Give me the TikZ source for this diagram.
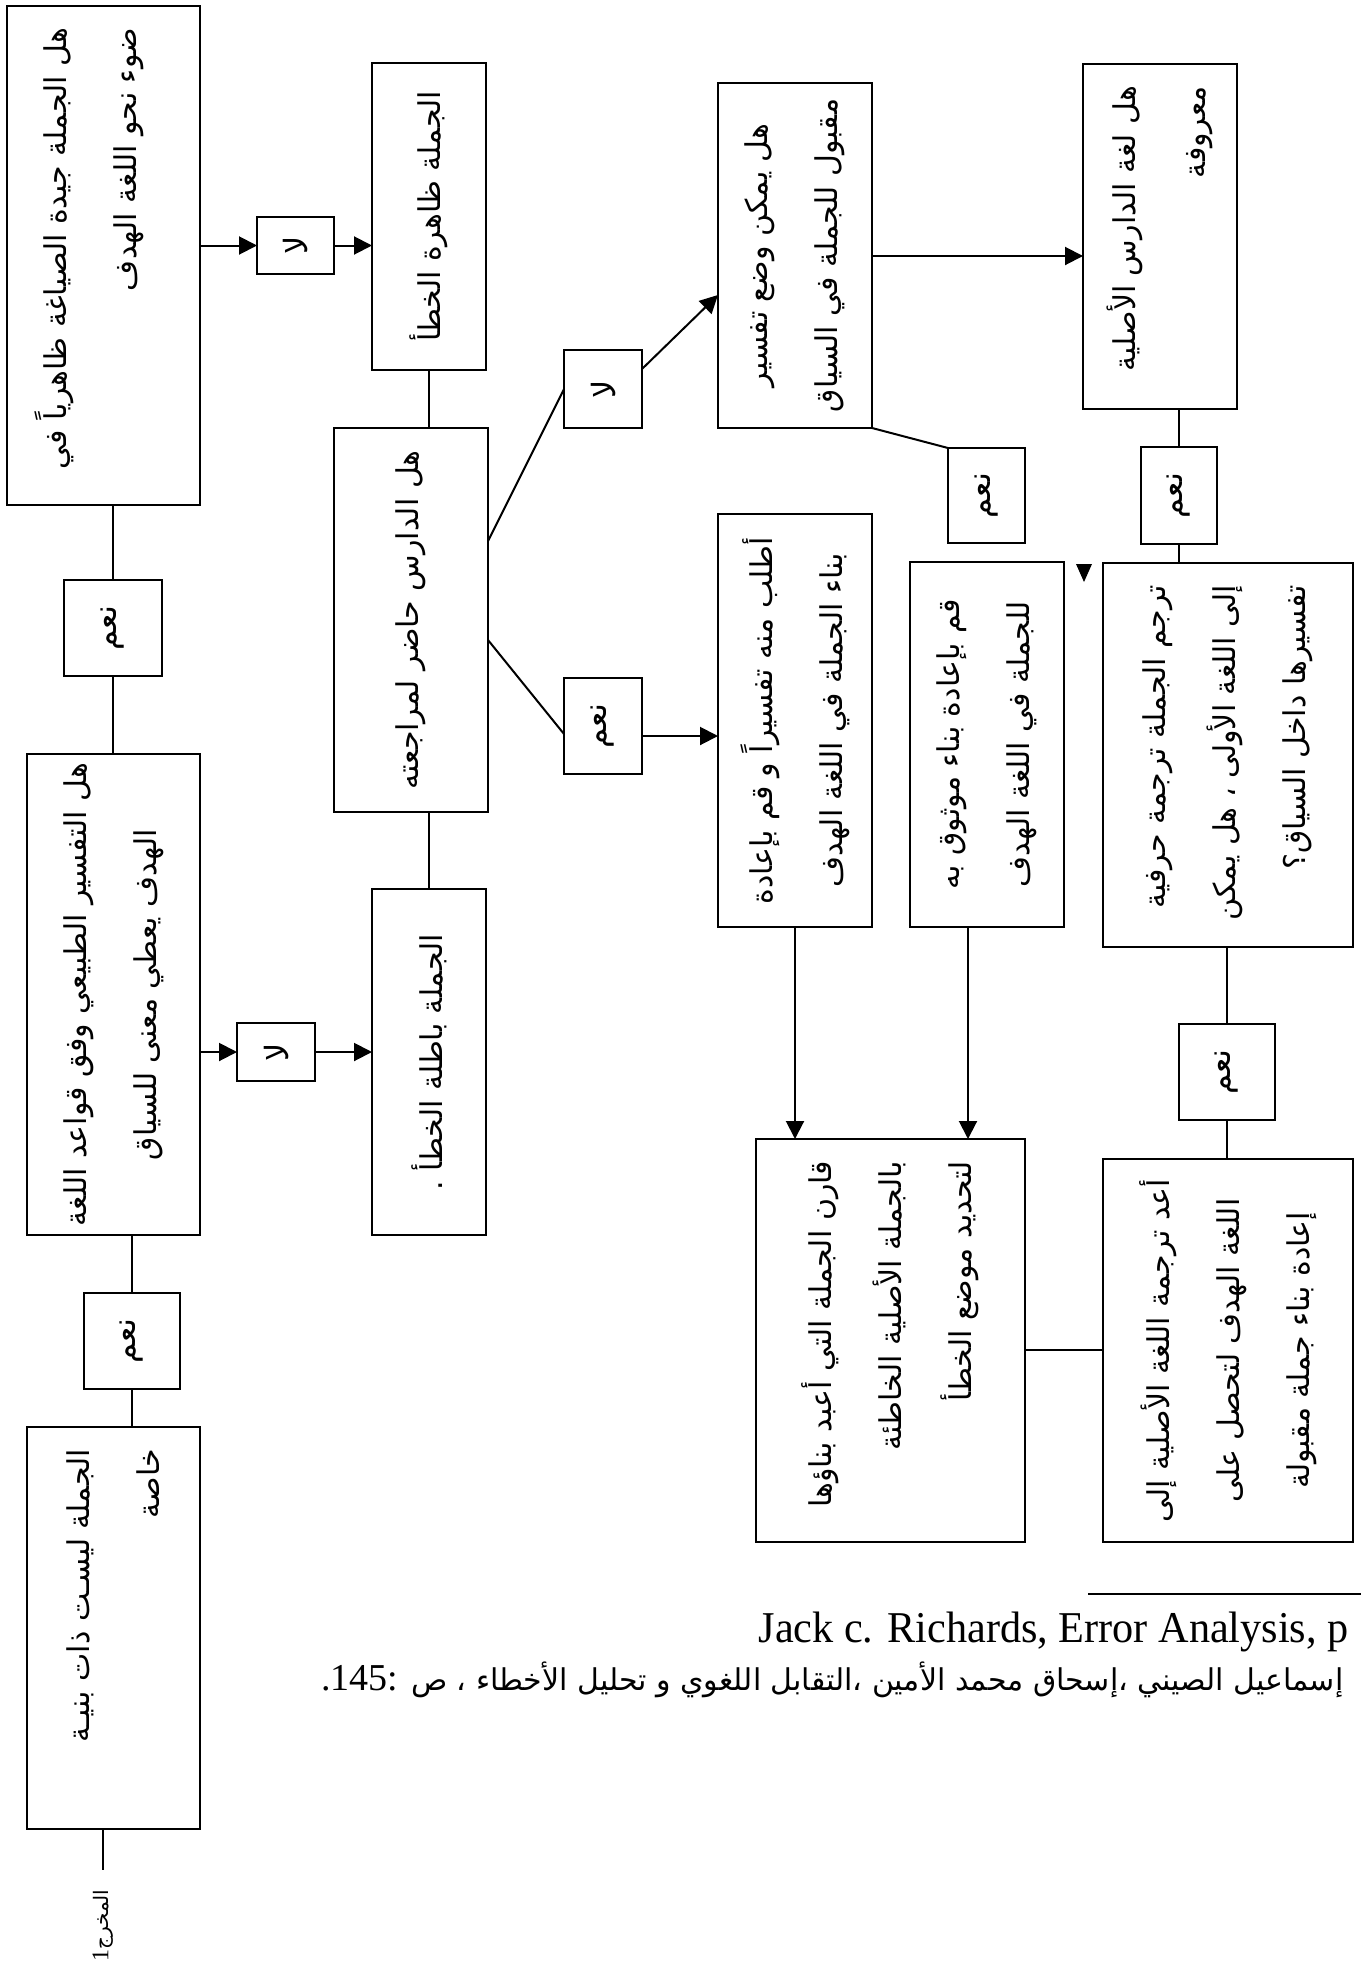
\documentclass[tikz,border=0pt]{standalone}
\usepackage{fontspec}
\setmainfont{Liberation Serif}
\newfontfamily\arabicfont[Script=Arabic]{DejaVu Sans}
\TeXXeTstate=1
\usetikzlibrary{arrows.meta}
\newlength\bxw
\newcommand\AR[1]{\mbox{\beginR#1\endR}}
% name x1 y1 x2 y2 align margin shift lines
\newcommand\mkbox[9]{%
  \pgfmathsetlength\bxw{(#5-#3-2*#7)*0.5pt}%
  \node[box, minimum width={(#4-#2)*0.5pt}, minimum height={(#5-#3)*0.5pt}]
    (#1) at ({(#2+#4)/2},{(#3+#5)/2}) {};
  \node[inner sep=0pt] (#1t) at ([xshift={#8*0.5pt}]#1.center)
    {\rotatebox{90}{\parbox{\bxw}{#6\arabicfont\fontsize{15}{35}\selectfont #9}}};}
\newcommand\mksmall[6]{%
  \node[box, minimum width={(#4-#2)*0.5pt}, minimum height={(#5-#3)*0.5pt}]
    (#1) at ({(#2+#4)/2},{(#3+#5)/2})
    {\rotatebox{90}{\arabicfont\fontsize{16}{20}\selectfont\AR{#6}}};}
\tikzset{
  box/.style={draw, line width=1pt, inner sep=0pt, outer sep=0pt},
  conn/.style={line width=1pt},
  arr/.style={conn, -{Triangle[length=9pt,width=9pt]}}
}
\begin{document}
\begin{tikzpicture}[x=0.5pt,y=-0.5pt]
\useasboundingbox (0,0) rectangle (1361,1964);
% main boxes
\mkbox{A}{7}{6}{200}{505}{\raggedleft}{22}{-14}{\AR{هل الجملة جيدة الصياغة ظاهرياً في}\\\AR{ضوء نحو اللغة الهدف}}
\mkbox{B}{372}{63}{486}{370}{\centering}{8}{0}{\AR{الجملة ظاهرة الخطأ}}
\mkbox{C}{334}{428}{488}{812}{\centering}{8}{0}{\AR{هل الدارس حاضر لمراجعته}}
\mkbox{D}{372}{889}{486}{1235}{\centering}{8}{0}{\AR{الجملة باطلة الخطأ .}}
\mkbox{E}{27}{754}{200}{1235}{\centering}{6}{0}{\AR{هل التفسير الطبيعي وفق قواعد اللغة}\\\AR{الهدف يعطي معنى للسياق}}
\mkbox{F}{27}{1427}{200}{1829}{\raggedleft}{22}{0}{\AR{الجملة ليسـت ذات بنيـة}\\\AR{خاصة}}
\mkbox{G}{718}{83}{872}{428}{\centering}{8}{0}{\AR{هل يمكن وضع تفسير}\\\AR{مقبول للجملة في السياق}}
\mkbox{H}{718}{514}{872}{927}{\centering}{8}{0}{\AR{أطلب منه تفسيراً و قم بإعادة}\\\AR{بناء الجملة في اللغة الهدف}}
\mkbox{I}{910}{562}{1064}{927}{\centering}{8}{0}{\AR{قم بإعادة بناء موثوق به}\\\AR{للجملة في اللغة الهدف}}
\mkbox{J}{1083}{64}{1237}{409}{\raggedleft}{22}{0}{\AR{هل لغة الدارس الأصلية}\\\AR{معروفة}}
\mkbox{K}{1103}{563}{1353}{947}{\raggedleft}{22}{0}{\AR{ترجم الجملة ترجمة حرفية}\\\AR{إلى اللغة الأولى ، هل يمكن}\\\AR{تفسيرها داخل السياق؟}}
\mkbox{L}{1103}{1159}{1353}{1542}{\centering}{8}{0}{\AR{أعد ترجمة اللغة الأصلية إلى}\\\AR{اللغة الهدف لتحصل على}\\\AR{إعادة بناء جملة مقبولة}}
\mkbox{M}{756}{1139}{1025}{1542}{\raggedleft}{22}{0}{\AR{قارن الجملة التي أعبد بناؤها}\\\AR{بالجملة الأصلية الخاطئة}\\\AR{لتحديد موضع الخطأ}}
% small answer boxes
\mksmall{no1}{257}{217}{334}{274}{لا}
\mksmall{no2}{237}{1023}{315}{1081}{لا}
\mksmall{yes1}{64}{580}{162}{676}{نعم}
\mksmall{yes2}{84}{1293}{180}{1389}{نعم}
\mksmall{no3}{564}{350}{642}{428}{لا}
\mksmall{yes3}{564}{678}{642}{774}{نعم}
\mksmall{yes4}{948}{448}{1025}{543}{نعم}
\mksmall{yes5}{1141}{447}{1217}{544}{نعم}
\mksmall{yes6}{1179}{1024}{1275}{1120}{نعم}
% exit label
\node[inner sep=0pt, anchor=south] (out) at (103,1962)
  {\rotatebox{90}{\fontsize{12}{14}\selectfont\beginR{\arabicfont\fontsize{10}{14}\selectfont المخرج}1\endR}};
\coordinate (oute) at (103,1870);
% connectors left part
\draw[arr] (A.east |- no1) -- (no1.west);
\draw[arr] (no1.east) -- (no1.east -| B.west);
\draw[conn] (B.south) -- (B.south |- C.north);
\draw[conn] (D.north |- C.south) -- (D.north);
\draw[conn] (yes1.north |- A.south) -- (yes1.north);
\draw[conn] (yes1.south) -- (yes1.south |- E.north);
\draw[arr] (E.east |- no2) -- (no2.west);
\draw[arr] (no2.east) -- (no2.east -| D.west);
\draw[conn] (yes2.north |- E.south) -- (yes2.north);
\draw[conn] (yes2.south) -- (yes2.south |- F.north);
\draw[conn] (oute |- F.south) -- (oute);
% connectors right part
\draw[conn] (C.east |- 0,541) -- (no3.west);
\draw[arr] (no3.east |- 0,369) -- (G.west |- 0,295);
\draw[conn] (C.east |- 0,640) -- (yes3.west |- 0,734);
\draw[arr] (yes3.east |- 0,736) -- (H.west |- 0,736);
\draw[conn] (G.south east) -- (yes4.north west);
\draw[arr] (G.east |- 0,256) -- (J.west |- 0,256);
\draw[conn] (J.south -| yes5) -- (yes5.north);
\draw[conn] (yes5.south) -- (yes5.south |- K.north);
\draw[conn] (yes6.north |- K.south) -- (yes6.north);
\draw[conn] (yes6.south) -- (yes6.south |- L.north);
\draw[arr] (H.south) -- (H.south |- M.north);
\draw[arr] (I.south -| 968,0) -- (M.north -| 968,0);
\draw[conn] (M.east |- 0,1350) -- (L.west |- 0,1350);
% stray arrowhead
\fill (1076,564) -- (1092,564) -- (1084,582) -- cycle;
% footnote
\draw[line width=1.1pt] (1088,1594) -- (1361,1594);
\node[anchor=base east, inner sep=0pt] (jack) at (1349,1642)
  {\scalebox{0.96}[1]{\fontsize{22}{26}\selectfont Jack c. Richards, Error Analysis, p}};
\node[anchor=base west, inner sep=0pt] (src) at (321,1690)
  {\fontsize{19}{22}\selectfont .145: {\arabicfont\fontsize{15}{22}\selectfont\beginR إسماعيل الصيني ،إسحاق محمد الأمين ،التقابل اللغوي و تحليل الأخطاء ، ص\endR}};
\end{tikzpicture}
\end{document}
